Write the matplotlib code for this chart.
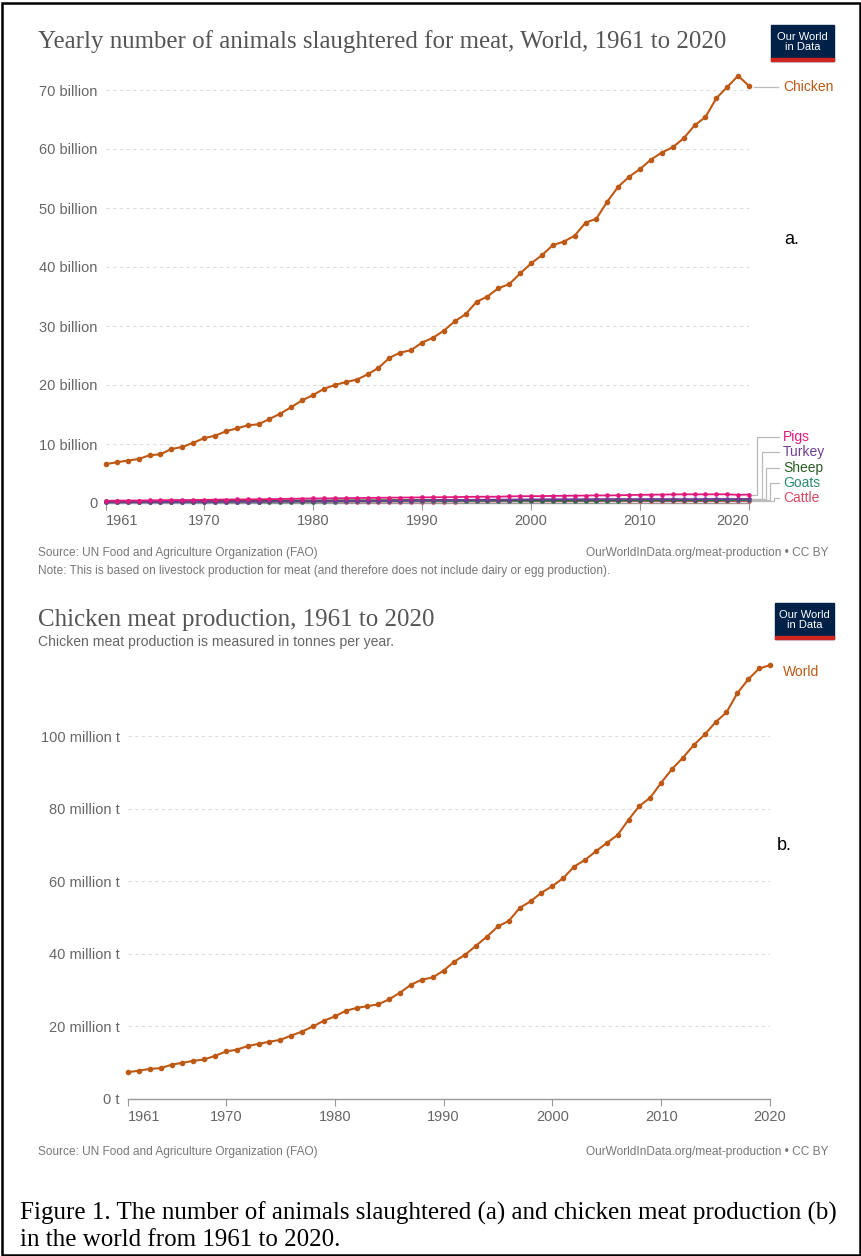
import matplotlib.pyplot as plt
import numpy as np

W, H = 862, 1256

years = list(range(1961, 2021))

# animals slaughtered, billions
chicken_heads = [6.6, 6.9, 7.2, 7.45, 8.1, 8.25, 9.15, 9.5, 10.2, 11.0,
                 11.4, 12.15, 12.65, 13.15, 13.35, 14.25, 15.15, 16.25, 17.4, 18.3,
                 19.35, 20.0, 20.5, 20.9, 21.8, 22.9, 24.6, 25.5, 25.9, 27.2,
                 28.0, 29.2, 30.8, 32.0, 34.1, 35.0, 36.4, 37.1, 38.9, 40.6,
                 42.0, 43.7, 44.3, 45.3, 47.5, 48.2, 51.1, 53.6, 55.3, 56.6,
                 58.2, 59.4, 60.3, 61.8, 64.0, 65.4, 68.6, 70.5, 72.4, 70.7]
pigs = [0.38, 0.40, 0.42, 0.42, 0.45, 0.47, 0.49, 0.50, 0.51, 0.53,
        0.56, 0.59, 0.60, 0.61, 0.63, 0.65, 0.68, 0.71, 0.75, 0.77,
        0.78, 0.79, 0.81, 0.84, 0.86, 0.88, 0.90, 0.92, 0.93, 0.95,
        0.97, 0.98, 1.00, 1.03, 1.06, 1.06, 1.07, 1.12, 1.15, 1.16,
        1.17, 1.20, 1.22, 1.24, 1.26, 1.29, 1.28, 1.31, 1.35, 1.38,
        1.40, 1.43, 1.45, 1.46, 1.47, 1.46, 1.47, 1.48, 1.38, 1.43]
turkey = [0.12, 0.13, 0.14, 0.15, 0.16, 0.17, 0.18, 0.19, 0.20, 0.21,
          0.22, 0.23, 0.24, 0.25, 0.25, 0.26, 0.27, 0.28, 0.29, 0.30,
          0.31, 0.32, 0.33, 0.34, 0.35, 0.37, 0.39, 0.41, 0.42, 0.44,
          0.46, 0.48, 0.50, 0.52, 0.54, 0.56, 0.57, 0.58, 0.60, 0.61,
          0.62, 0.63, 0.63, 0.63, 0.64, 0.64, 0.65, 0.66, 0.64, 0.65,
          0.66, 0.66, 0.65, 0.64, 0.64, 0.66, 0.67, 0.67, 0.66, 0.67]
sheep = [0.33, 0.33, 0.34, 0.35, 0.35, 0.36, 0.36, 0.37, 0.37, 0.38,
         0.38, 0.38, 0.37, 0.38, 0.39, 0.39, 0.40, 0.41, 0.42, 0.42,
         0.43, 0.44, 0.45, 0.46, 0.46, 0.47, 0.48, 0.49, 0.50, 0.50,
         0.51, 0.51, 0.50, 0.50, 0.50, 0.51, 0.51, 0.51, 0.52, 0.52,
         0.52, 0.53, 0.53, 0.54, 0.54, 0.55, 0.55, 0.56, 0.56, 0.55,
         0.55, 0.55, 0.55, 0.56, 0.57, 0.58, 0.58, 0.59, 0.60, 0.62]
goats = [0.14, 0.15, 0.15, 0.16, 0.16, 0.17, 0.17, 0.18, 0.18, 0.18,
         0.19, 0.19, 0.19, 0.20, 0.20, 0.21, 0.21, 0.22, 0.22, 0.23,
         0.24, 0.25, 0.26, 0.27, 0.28, 0.29, 0.30, 0.31, 0.32, 0.32,
         0.33, 0.34, 0.34, 0.35, 0.36, 0.37, 0.37, 0.37, 0.37, 0.38,
         0.38, 0.39, 0.39, 0.40, 0.41, 0.41, 0.42, 0.42, 0.43, 0.43,
         0.43, 0.44, 0.45, 0.45, 0.46, 0.46, 0.47, 0.47, 0.48, 0.49]
cattle = [0.17, 0.17, 0.18, 0.18, 0.18, 0.18, 0.19, 0.19, 0.19, 0.20,
          0.20, 0.20, 0.20, 0.21, 0.22, 0.23, 0.23, 0.23, 0.22, 0.22,
          0.22, 0.23, 0.23, 0.23, 0.23, 0.24, 0.24, 0.24, 0.24, 0.24,
          0.25, 0.25, 0.25, 0.26, 0.26, 0.26, 0.26, 0.27, 0.27, 0.27,
          0.27, 0.28, 0.28, 0.28, 0.29, 0.29, 0.29, 0.30, 0.30, 0.30,
          0.29, 0.29, 0.30, 0.30, 0.30, 0.30, 0.30, 0.30, 0.30, 0.30]

# chicken meat, million tonnes
chicken_meat = [7.4, 7.8, 8.3, 8.5, 9.45, 10.0, 10.5, 10.9, 11.9, 13.1,
                13.6, 14.6, 15.2, 15.8, 16.3, 17.5, 18.6, 20.0, 21.6, 22.75,
                24.3, 25.1, 25.6, 26.1, 27.5, 29.3, 31.5, 32.9, 33.5, 35.4,
                37.9, 39.8, 42.3, 44.8, 47.6, 49.1, 52.7, 54.5, 56.9, 58.7,
                60.9, 64.1, 65.9, 68.3, 70.6, 72.8, 77.0, 80.8, 83.1, 87.2,
                91.0, 94.1, 97.6, 100.5, 103.9, 106.6, 111.9, 115.7, 118.7, 119.6]

year_ticks = [1961, 1970, 1980, 1990, 2000, 2010, 2020]
ticks_a = [0, 10, 20, 30, 40, 50, 60, 70]
labels_a = ['0'] + ['%d billion' % v for v in ticks_a[1:]]
ticks_b = [0, 20, 40, 60, 80, 100]
labels_b = ['0 t'] + ['%d million t' % v for v in ticks_b[1:]]

small_names = ['Pigs', 'Turkey', 'Sheep', 'Goats', 'Cattle']
small_series = [pigs, turkey, sheep, goats, cattle]
small_colors = ['#e0197d', '#6d3e91', '#2a5d22', '#2c8c6a', '#d44a64']

CHICK = '#be5915'
GREY = '#666666'
FOOT = '#777777'
SANS = ['Liberation Sans', 'DejaVu Sans']
SERIF = ['Liberation Serif', 'DejaVu Serif']

plt.rcParams['font.family'] = SANS

fig = plt.figure(figsize=(W / 100, H / 100), dpi=100)


def px(x, y):
    return x / W, 1 - y / H


def text(x, y, s, **kw):
    fx, fy = px(x, y)
    return fig.text(fx, fy, s, **kw)


def make_axes(x0, x1, y0, ytop, last_align):
    # y0 = pixel row of the zero line, ytop = pixel row of the axes top
    ax = fig.add_axes([x0 / W, 1 - y0 / H, (x1 - x0) / W, (y0 - ytop) / H])
    for s in ['top', 'right', 'left']:
        ax.spines[s].set_visible(False)
    ax.spines['bottom'].set_color('#999999')
    ax.spines['bottom'].set_linewidth(1.0)
    ax.set_xlim(1961, 2020)
    ax.set_xticks(year_ticks)
    ax.tick_params(axis='x', length=5, color='#999999', labelcolor=GREY,
                   labelsize=10.5, pad=3)
    ax.tick_params(axis='y', length=0, labelcolor=GREY, labelsize=10.5, pad=6)
    xl = ax.get_xticklabels()
    xl[0].set_ha('left')
    xl[-1].set_ha(last_align)
    ax.grid(axis='y', color='#dddddd', linestyle=(0, (3, 3)), linewidth=0.8)
    ax.set_axisbelow(True)
    ax.patch.set_alpha(0)
    return ax


def owid_logo(x0, y0, x1, y1):
    fx0, fy1 = px(x0, y1)
    w, h = (x1 - x0) / W, (y1 - y0) / H
    fig.patches.append(plt.Rectangle((fx0, fy1), w, h, color='#002147',
                                     transform=fig.transFigure, figure=fig))
    fig.patches.append(plt.Rectangle((fx0, fy1), w, 3 / H, color='#ce261e',
                                     transform=fig.transFigure, figure=fig))
    text((x0 + x1) / 2, (y0 + y1) / 2 - 1, 'Our World\nin Data', color='white',
         fontsize=8, ha='center', va='center', linespacing=0.95)


# ---- (a) animals slaughtered
ax1 = make_axes(106, 749, 503, 503 - 413 * 75 / 70, 'right')
ax1.set_ylim(0, 75)
ax1.set_yticks(ticks_a)
ax1.set_yticklabels(labels_a)
ax1.get_ygridlines()[0].set_visible(False)

for s, c in zip(small_series[::-1], small_colors[::-1]):
    ax1.plot(years, s, color=c, lw=1.3, marker='o', ms=2.3, clip_on=False, zorder=3)
ax1.plot(years, chicken_heads, color=CHICK, lw=1.5, marker='o', ms=3,
         clip_on=False, zorder=4)

text(783, 87, 'Chicken', color=CHICK, fontsize=10, va='center')
line_y = 1 - 87 / H
fig.add_artist(plt.Line2D([754 / W, 778 / W], [line_y, line_y], color='#bbbbbb', lw=0.9))

# stepped connectors from series ends to their labels
label_rows = [437, 452, 468, 483, 498]
bend_x = [757, 762, 766, 770, 774]
for name, s, c, ly, bx in zip(small_names, small_series, small_colors, label_rows, bend_x):
    yd = ax1.transData.transform((2020, s[-1]))[1]
    y_end = yd / H
    fy = 1 - ly / H
    fig.add_artist(plt.Line2D([752 / W, bx / W, bx / W, 779 / W],
                              [y_end, y_end, fy, fy], color='#bbbbbb', lw=0.9))
    text(783, ly, name, color=c, fontsize=10, va='center')

text(784, 240, 'a.', color='black', fontsize=13, va='center')

text(38, 42, 'Yearly number of animals slaughtered for meat, World, 1961 to 2020',
     family=SERIF, fontsize=17.9, color='#555555', va='center')
owid_logo(771, 25, 834, 61)

text(38, 553, 'Source: UN Food and Agriculture Organization (FAO)',
     fontsize=8.6, color=FOOT, va='center')
text(829, 553, 'OurWorldInData.org/meat-production \u2022 CC BY',
     fontsize=8.6, color=FOOT, va='center', ha='right')
text(38, 571, 'Note: This is based on livestock production for meat (and therefore does '
     'not include dairy or egg production).', fontsize=8.6, color=FOOT, va='center')

# ---- (b) chicken meat production
ax2 = make_axes(128, 770, 1099, 1099 - 362.7 * 125 / 100, 'center')
ax2.set_ylim(0, 125)
ax2.set_yticks(ticks_b)
ax2.set_yticklabels(labels_b)
ax2.get_ygridlines()[0].set_visible(False)
ax2.plot(years, chicken_meat, color=CHICK, lw=1.5, marker='o', ms=3,
         clip_on=False, zorder=4)
text(783, 672, 'World', color=CHICK, fontsize=10, va='center')
text(777, 845, 'b.', color='black', fontsize=13, va='center')

text(38, 620, 'Chicken meat production, 1961 to 2020',
     family=SERIF, fontsize=17.9, color='#555555', va='center')
text(38, 642, 'Chicken meat production is measured in tonnes per year.',
     fontsize=10.1, color=GREY, va='center')
owid_logo(775, 603, 834, 639)

text(38, 1152, 'Source: UN Food and Agriculture Organization (FAO)',
     fontsize=8.6, color=FOOT, va='center')
text(829, 1152, 'OurWorldInData.org/meat-production \u2022 CC BY',
     fontsize=8.6, color=FOOT, va='center', ha='right')

# caption
text(20, 1213, 'Figure 1. The number of animals slaughtered (a) and chicken meat production (b)',
     family=SERIF, fontsize=18, color='black', va='center')
text(20, 1240, 'in the world from 1961 to 2020.',
     family=SERIF, fontsize=18, color='black', va='center')

# frame around the whole figure
fig.patches.append(plt.Rectangle((0.002, 0.001), 0.996, 0.997, fill=False,
                                 edgecolor='black', lw=1.8,
                                 transform=fig.transFigure, figure=fig))

fig.savefig('out.png', dpi=100)
